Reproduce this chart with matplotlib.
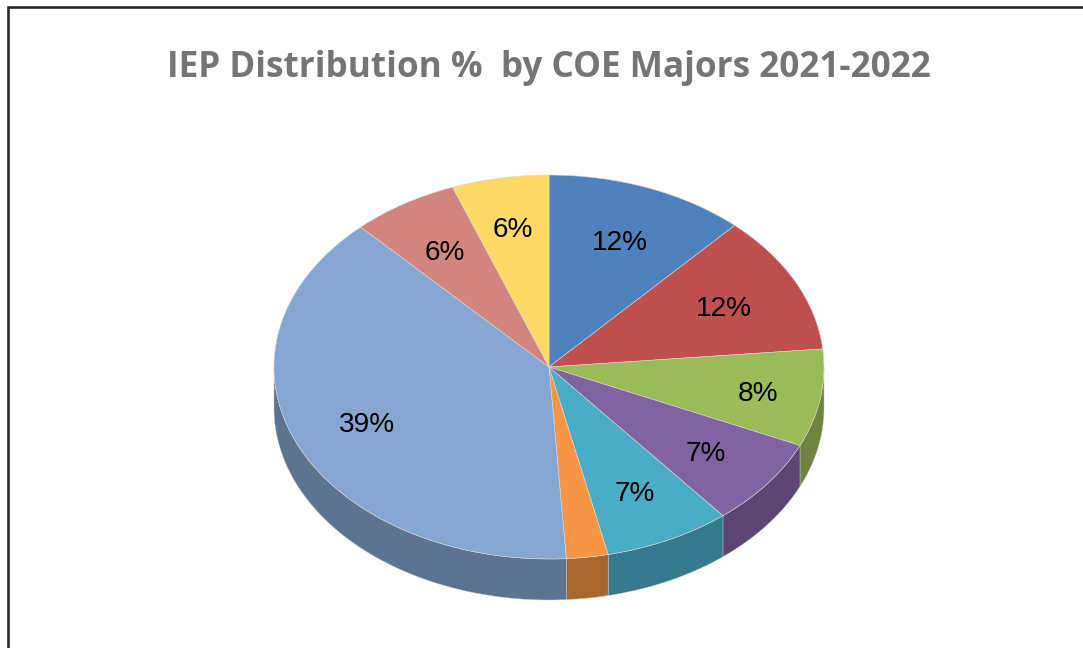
#!/usr/bin/env python3
# -*- coding: utf-8 -*-

import numpy as np
import matplotlib
matplotlib.use("Agg")
import matplotlib.pyplot as plt
from matplotlib.lines import Line2D

# slices, clockwise from the top
values = [11.8, 11.7, 8.2, 7.4, 7.45, 2.45, 39.0, 6.3, 5.7]
top_colors = ["#4f81bd", "#c0504d", "#9bbb59", "#8064a2", "#4bacc6",
              "#f79646", "#84a6d1", "#d2857f", "#ffd966"]
side_colors = ["#3b608d", "#903c3a", "#6f843f", "#5c4570", "#36788c",
               "#a8672f", "#5d7491", "#9c635f", "#bfa24c"]
# how far out each percent label sits, as a share of the radius
label_dist = [0.71, 0.71, 0.77, 0.72, 0.72, 0.72, 0.72, 0.72, 0.74]
title = "IEP Distribution %  by COE Majors 2021-2022"

# pie geometry in pixels
W, H = 1083, 648
cx, cy = 549, 367
rx, ry = 275, 192
depth = 41.0 / ry


def pct_label(p):
    # the smallest slice has no label
    return "" if p < 3 else "%.0f%%" % p


fig = plt.figure(figsize=(W / 100, H / 100), dpi=100)
ax = fig.add_axes([0, 0, 1, 1])

wedges, texts, autotexts = ax.pie(values, colors=top_colors, startangle=90, counterclock=False,
                                  autopct=pct_label, radius=1,
                                  wedgeprops={"edgecolor": "#d8d8d8", "linewidth": 0.4, "zorder": 3},
                                  textprops={"family": "Liberation Sans", "fontsize": 20.2, "color": "black", "zorder": 4})
ax.set_aspect("auto")
ax.set_xlim(-cx / rx, (W - cx) / rx)
ax.set_ylim((cy - H) / ry, cy / ry)
ax.axis("off")

# side wall, only the part of each slice on the front half
edges = 90 - 3.6 * np.cumsum([0] + values)
for i in range(len(values)):
    mid = np.radians((edges[i] + edges[i + 1]) / 2)
    # labels sit a touch below their true spot in the original
    autotexts[i].set_position((label_dist[i] * np.cos(mid), label_dist[i] * np.sin(mid) - 3.0 / ry))
    a_hi = min(edges[i], 0)
    a_lo = max(edges[i + 1], -180)
    if a_hi <= a_lo:
        continue
    t = np.radians(np.linspace(a_lo, a_hi, 80))
    x = np.cos(t)
    y = np.sin(t)
    ax.fill(np.r_[x, x[::-1]], np.r_[y, (y - depth)[::-1]], facecolor=side_colors[i],
            edgecolor="#c8c8c8", linewidth=0.3, zorder=2)

fig.text(548.5 / W, 1 - 68 / H, title, family="Open Sans", fontweight="bold", fontsize=25.3,
         color="#757575", ha="center", va="center")

# frame of the chart area, runs off the right and bottom of the picture
fig.add_artist(Line2D([8 / W, 8 / W, 1], [0, 1 - 7.3 / H, 1 - 7.3 / H], color="#2b2b2b",
                      linewidth=1.9, solid_joinstyle="miter"))

fig.savefig("out.png", dpi=100, facecolor="white")
